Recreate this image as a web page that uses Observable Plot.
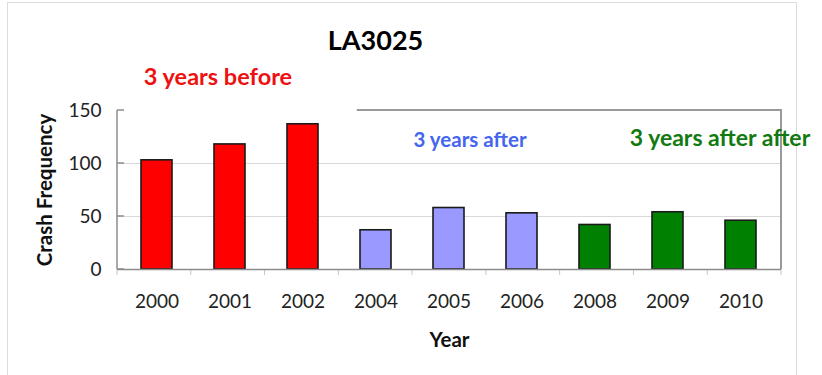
<!DOCTYPE html>
<html>
<head>
<meta charset="utf-8">
<script src="https://cdn.jsdelivr.net/npm/d3@7"></script>
<script src="https://cdn.jsdelivr.net/npm/@observablehq/plot@0.6"></script>
<style>
  html, body { margin: 0; padding: 0; background: #fff; }
  #wrap { position: relative; width: 822px; height: 375px; overflow: hidden; font-family: Lato, "Open Sans", sans-serif; }
  #outer { position: absolute; left: 7px; top: 2px; width: 788px; height: 400px; border: 1px solid #dcdcdc; }
  #chart { position: absolute; left: 0; top: 0; }
</style>
</head>
<body>
<div id="wrap"><div id="outer"></div><div id="chart"></div></div>
<script>
// ---- data ----
const years = ["2000", "2001", "2002", "2004", "2005", "2006", "2008", "2009", "2010"];
const crashes = [103, 118, 137, 37, 58, 53, 42, 54, 46];
const periods = ["before", "before", "before", "after", "after", "after", "afterafter", "afterafter", "afterafter"];
const periodNames = ["before", "after", "afterafter"];
const periodColors = ["#ff0000", "#9999ff", "#008000"];
const yTicks = [0, 50, 100, 150];
const gridValues = [50, 100];
const title = "LA3025";
const yLabel = "Crash Frequency";
const xLabel = "Year";
const notes = ["3 years before", "3 years after", "3 years after after"];
const noteColors = ["#ee1111", "#4466ee", "#117a11"];

const table = years.map((y, i) => ({year: y, value: crashes[i], period: periods[i]}));
const colorOf = p => periodColors[periodNames.indexOf(p)];

// chart furniture drawn from the plot's own dimensions
function furniture(index, scales, values, dim) {
  const g = d3.create("svg:g");
  const x0 = dim.marginLeft, x1 = dim.width - dim.marginRight;
  const yTop = dim.marginTop, yBot = dim.height - dim.marginBottom;
  const step = (x1 - x0) / years.length;
  // left axis line
  g.append("line").attr("x1", x0).attr("x2", x0).attr("y1", yTop).attr("y2", yBot)
    .attr("stroke", "#8c8c8c").attr("stroke-width", 1.5);
  // inner ticks on the value axis
  for (const t of yTicks) {
    const yy = scales.y(t);
    g.append("line").attr("x1", x0).attr("x2", x0 + 7).attr("y1", yy).attr("y2", yy)
      .attr("stroke", "#8c8c8c").attr("stroke-width", 1.5);
  }
  // category boundary ticks below the axis
  for (let k = 0; k <= years.length; ++k) {
    const xx = x0 + k * step;
    g.append("line").attr("x1", xx).attr("x2", xx).attr("y1", yBot).attr("y2", yBot + 6)
      .attr("stroke", "#c8c8c8").attr("stroke-width", 1);
  }
  // plot-area border: partial top edge and right edge
  g.append("path")
    .attr("d", `M${x0 + step * 3.25},${yTop}H${x1}V${yBot}`)
    .attr("fill", "none").attr("stroke", "#999").attr("stroke-width", 2);
  return g.node();
}

const plot = Plot.plot({
  width: 822,
  height: 375,
  marginLeft: 117,
  marginRight: 41,
  marginTop: 110,
  marginBottom: 106,
  style: {fontFamily: "Lato, 'Open Sans', sans-serif", background: "transparent", overflow: "visible"},
  x: {domain: years, paddingInner: 0.57, paddingOuter: 0.285, label: null},
  y: {domain: [0, 150], label: null},
  marks: [
    Plot.ruleY(gridValues, {stroke: "#d9d9d9", strokeWidth: 1.2}),
    furniture,
    Plot.barY(table, {x: "year", y: "value", fill: d => colorOf(d.period), stroke: "#1a1a1a", strokeWidth: 1.6}),
    Plot.ruleY([0], {stroke: "#8c8c8c", strokeWidth: 1.5}),
    Plot.axisY({ticks: yTicks, tickSize: 0, tickPadding: 16, fontSize: 19, fill: "#222", label: null}),
    Plot.axisX({tickSize: 0, tickPadding: 25, fontSize: 19, fill: "#222", label: null}),
    Plot.text([yLabel], {frameAnchor: "left", textAnchor: "middle", rotate: -90, dx: -72, fontSize: 20.5, fontWeight: "bold", fill: "#111"}),
    Plot.text([xLabel], {frameAnchor: "bottom", dy: 77, fontSize: 20.5, fontWeight: "bold", fill: "#111"}),
    Plot.text([title], {frameAnchor: "top", dx: -74, dy: -80, fontSize: 27, fontWeight: "bold", fill: "#000"}),
    Plot.text([notes[0]], {x: () => years[1], y: () => 150, dx: -12, dy: -33, fontSize: 23.5, fontWeight: "bold", fill: noteColors[0]}),
    Plot.text([notes[1]], {x: () => years[4], y: () => 150, dx: 21, dy: 30, fontSize: 20.5, fontWeight: "bold", fill: noteColors[1]}),
    Plot.text([notes[2]], {x: () => years[7], y: () => 150, dx: 52, dy: 28, fontSize: 23, fontWeight: "bold", fill: noteColors[2]})
  ]
});
document.getElementById("chart").appendChild(plot);
</script>
</body>
</html>
